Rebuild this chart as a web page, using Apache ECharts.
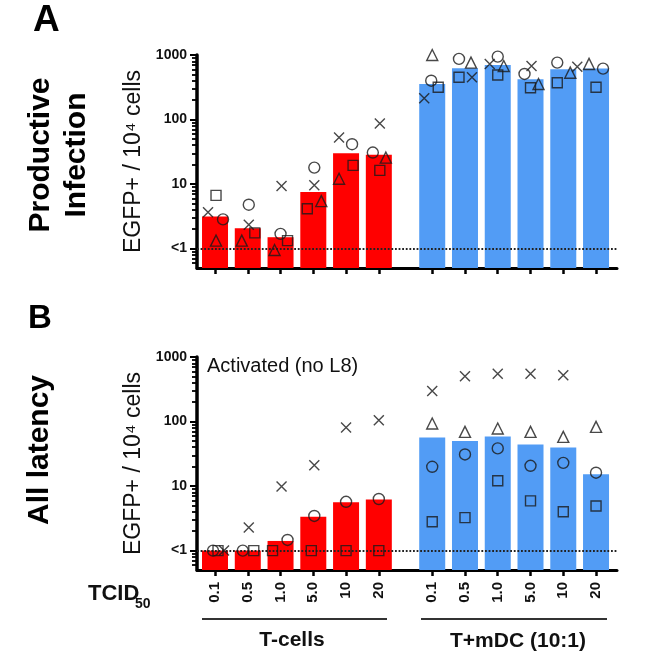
<!DOCTYPE html>
<html><head><meta charset="utf-8">
<script src="https://cdn.jsdelivr.net/npm/echarts@6/dist/echarts.min.js"></script>
<style>html,body{margin:0;padding:0;background:#fff}#c{width:653px;height:657px}</style>
</head><body><div id="c"></div>
<script>
// ---------- data ----------
const doses = ['0.1', '0.5', '1.0', '5.0', '10', '20'];
const groups = ['T-cells', 'T+mDC (10:1)'];
const yTickValues = [1, 10, 100, 1000];
const yTickLabels = ['<1', '10', '100', '1000'];
const yMinorValues = [0.6, 0.7, 0.8, 0.9, 2, 3, 4, 5, 6, 7, 8, 9, 20, 30, 40, 50, 60, 70, 80, 90, 200, 300, 400, 500, 600, 700, 800, 900];

// Panel A: Productive Infection (T-cells group, T+mDC group)
const A_bar_T = [3.15, 2.07, 1.5, 7.5, 30, 28.5];
const A_bar_M = [355, 623, 701, 420, 601, 615];
const A_cross_T = [3.67, 2.34, 9.3, 9.55, 52.6, 87];
const A_cross_M = [213, 452, 727, 676, 660, null];
const A_circle_T = [2.83, 4.78, 1.69, 18, 41.4, 30.8];
const A_circle_M = [400, 870, 944, 508, 762, 615];
const A_square_T = [6.67, 1.75, 1.33, 4.14, 19.5, 16.3];
const A_square_M = [316, 452, 490, 311, 372, 316];
const A_tri_T = [1.33, 1.33, 0.95, 5.44, 12.1, 25.7];
const A_tri_M = [1000, 762, 676, 355, 532, 727];

// Panel B: All latency
const B_bar_T = [1.0, 1.0, 1.41, 3.35, 5.6, 6.2];
const B_bar_M = [56.6, 50, 58.6, 44, 39.6, 15.2];
const B_cross_T = [1.0, 2.27, 9.8, 21, 81, 105];
const B_cross_M = [297, 502, 552, 552, 520, null];
const B_circle_T = [1, 1, 1.46, 3.44, 5.7, 6.3];
const B_circle_M = [19.9, 30.9, 38.3, 20.6, 22.9, 16.1];
const B_square_T = [1, 1, 1, 1, 1, 1];
const B_square_M = [2.8, 3.24, 12.1, 5.9, 4.0, 4.9];
const B_tri_T = [null, null, null, null, null, null];
const B_tri_M = [93, 69, 78, 69, 57.8, 82.6];

// ---------- layout (horizontal jitter of replicate symbols, in px) ----------
const JIT = {
  A: {
    cross:  [[-7, 1, 1, 1, -7, 1], [-8, 7, -8, 1, 14, 0]],
    circle: [[8, 1, 0, 1, 6, -6], [-1, -6, 0, -6, -6, 7]],
    square: [[1, 7, 7, -6, 7, 1], [6, -6, 0, 0, -6, 0]],
    tri:    [[1, -6, -6, 8, -7, 7], [0, 6, 6, 8, 7, -7]]
  },
  B: {
    cross:  [[9, 1, 1, 1, 0, 0], [0, 0, 0, 0, 0, 0]],
    circle: [[-2, -5, 7, 1, 0, 0], [0, 0, 0, 0, 0, 0]],
    square: [[3, 6, -8, -2, 0, 0], [0, 0, 0, 0, 0, 0]],
    tri:    [[0, 0, 0, 0, 0, 0], [0, 0, 0, 0, 0, 0]]
  }
};

const FONT = "'Liberation Sans', Arial, Helvetica, sans-serif";
const GROUP_OFFSET = 6.63;
const X_MIN = -0.55, X_MAX = 12.27;
const GRID_LEFT = 197, GRID_W = 420, GRID_H = 213;
const GRID_TOPS = [55, 357];
const PX_PER_UNIT = GRID_W / (X_MAX - X_MIN);
const Y_MIN = 0.5, Y_MAX = 1000;
const BAR_W = 26;
const RED = '#ff0000', BLUE = '#529cf5';

const pos = (g, i) => i + g * GROUP_OFFSET;
const tickPositions = [];
groups.forEach((_, g) => doses.forEach((_, i) => tickPositions.push(pos(g, i))));

function doseLabel(v) {
  let best = 0, bd = 1e9;
  tickPositions.forEach((p, k) => { const d = Math.abs(p - v); if (d < bd) { bd = d; best = k; } });
  return doses[best % doses.length];
}
function yLabel(v) {
  const i = yTickValues.findIndex(t => Math.abs(t - v) < 1e-6 * t);
  return i >= 0 ? yTickLabels[i] : '';
}

function barData(arrT, arrM) {
  const out = [];
  [arrT, arrM].forEach((arr, g) => arr.forEach((v, i) => { if (v != null) out.push([pos(g, i), v]); }));
  return out;
}
function ptData(arrT, arrM, jit) {
  const out = [];
  [arrT, arrM].forEach((arr, g) => arr.forEach((v, i) => {
    if (v != null) out.push([pos(g, i) + jit[g][i] / PX_PER_UNIT, v]);
  }));
  return out;
}

const xAxes = [], yAxes = [], grids = [], series = [];

const panels = [
  { key: 'A', bars: [A_bar_T, A_bar_M], cross: [A_cross_T, A_cross_M], circle: [A_circle_T, A_circle_M], square: [A_square_T, A_square_M], tri: [A_tri_T, A_tri_M] },
  { key: 'B', bars: [B_bar_T, B_bar_M], cross: [B_cross_T, B_cross_M], circle: [B_circle_T, B_circle_M], square: [B_square_T, B_square_M], tri: [B_tri_T, B_tri_M] }
];

panels.forEach((p, k) => {
  grids.push({ left: GRID_LEFT, top: GRID_TOPS[k], width: GRID_W, height: GRID_H });
  xAxes.push({
    type: 'value', gridIndex: k, min: X_MIN, max: X_MAX,
    axisLine: { show: true, onZero: false, lineStyle: { color: '#000', width: 3 } },
    axisTick: { show: true, customValues: tickPositions, length: 6, lineStyle: { color: '#000', width: 2.5 } },
    axisLabel: { show: k === 1, customValues: tickPositions, rotate: 90, margin: 12,
      formatter: v => doseLabel(v), fontFamily: FONT, fontSize: 15, fontWeight: 'bold', color: '#111' },
    splitLine: { show: false }
  });
  yAxes.push({
    type: 'log', logBase: 10, gridIndex: k, min: Y_MIN, max: Y_MAX, position: 'left',
    axisLine: { show: true, onZero: false, lineStyle: { color: '#000', width: 3.5 } },
    axisTick: { show: true, customValues: yTickValues, length: 7, lineStyle: { color: '#000', width: 2 } },
    axisLabel: { customValues: yTickValues, formatter: v => yLabel(v),
      fontFamily: FONT, fontSize: 14, fontWeight: 'bold', color: '#111', margin: 10 },
    splitLine: { show: false },
    name: 'EGFP+ / 10\u2074 cells', nameLocation: 'middle', nameRotate: 90, nameGap: 52,
    nameTextStyle: { fontFamily: FONT, fontSize: 23, color: '#111' }
  });
  yAxes.push({
    type: 'log', logBase: 10, gridIndex: k, min: Y_MIN, max: Y_MAX, position: 'left', offset: 0,
    axisLine: { show: false, onZero: false },
    axisTick: { show: true, customValues: yMinorValues, length: 5, lineStyle: { color: '#000', width: 1.8 } },
    axisLabel: { show: false },
    splitLine: { show: false }
  });
  const yi = k * 2;
  [RED, BLUE].forEach((col, g) => {
    series.push({
      type: 'custom', xAxisIndex: k, yAxisIndex: yi, z: 2,
      data: barData(g === 0 ? p.bars[0] : [], g === 1 ? p.bars[1] : []),
      encode: { x: 0, y: 1 },
      renderItem: (params, api) => {
        const x = api.value(0), v = api.value(1);
        const top = api.coord([x, v]);
        const base = api.coord([x, Y_MIN]);
        return { type: 'rect', shape: { x: top[0] - BAR_W / 2, y: top[1], width: BAR_W, height: base[1] - top[1] }, style: { fill: col } };
      }
    });
  });
  const symStyle = { color: 'rgba(0,0,0,0)', borderColor: '#1a1a1a', borderWidth: 1.4 };
  const defs = [
    { name: 'cross', symbol: 'path://M0,0L10,10M10,0L0,10', size: 10 },
    { name: 'circle', symbol: 'circle', size: 11 },
    { name: 'square', symbol: 'rect', size: 10 },
    { name: 'tri', symbol: 'triangle', size: 11 }
  ];
  defs.forEach((d, j) => {
    const s = {
      type: 'scatter', xAxisIndex: k, yAxisIndex: yi, z: 5,
      symbol: d.symbol, symbolSize: d.size, itemStyle: symStyle,
      data: ptData(p[d.name][0], p[d.name][1], JIT[p.key][d.name])
    };
    if (j === 0) {
      s.markLine = { silent: true, symbol: ['none', 'none'], label: { show: false }, z: 4,
        lineStyle: { type: 'dotted', color: '#222', width: 1.8 }, data: [{ yAxis: 1 }] };
    }
    series.push(s);
  });
});

const chart = echarts.init(document.getElementById('c'), null, { renderer: 'canvas' });
chart.setOption({
  animation: false,
  backgroundColor: '#fff',
  grid: grids, xAxis: xAxes, yAxis: yAxes, series: series,
  graphic: [
    { type: 'text', x: 33, y: 21, style: { text: 'A', font: 'bold 37px ' + FONT, fill: '#000', textVerticalAlign: 'middle' } },
    { type: 'text', x: 28, y: 319, style: { text: 'B', font: 'bold 33px ' + FONT, fill: '#000', textVerticalAlign: 'middle' } },
    { type: 'text', x: 59, y: 155, rotation: Math.PI / 2, style: { text: 'Productive\nInfection', font: 'bold 30px ' + FONT, lineHeight: 36, fill: '#000', textAlign: 'center', textVerticalAlign: 'middle' } },
    { type: 'text', x: 40, y: 450, rotation: Math.PI / 2, style: { text: 'All latency', font: 'bold 30px ' + FONT, fill: '#000', textAlign: 'center', textVerticalAlign: 'middle' } },
    { type: 'text', x: 207, y: 366, style: { text: 'Activated (no L8)', font: '20px ' + FONT, fill: '#111', textVerticalAlign: 'middle' } },
    { type: 'text', x: 88, y: 594, style: { text: 'TCID', font: 'bold 22px ' + FONT, fill: '#111', textVerticalAlign: 'middle' } },
    { type: 'text', x: 135, y: 604, style: { text: '50', font: 'bold 14px ' + FONT, fill: '#111', textVerticalAlign: 'middle' } },
    { type: 'line', shape: { x1: 202, y1: 619, x2: 387, y2: 619 }, style: { stroke: '#333', lineWidth: 2 } },
    { type: 'line', shape: { x1: 421, y1: 619, x2: 607, y2: 619 }, style: { stroke: '#333', lineWidth: 2 } },
    { type: 'text', x: 292, y: 640, style: { text: groups[0], font: 'bold 21px ' + FONT, fill: '#111', textAlign: 'center', textVerticalAlign: 'middle' } },
    { type: 'text', x: 518, y: 641, style: { text: groups[1], font: 'bold 21px ' + FONT, fill: '#111', textAlign: 'center', textVerticalAlign: 'middle' } }
  ]
});
</script></body></html>
